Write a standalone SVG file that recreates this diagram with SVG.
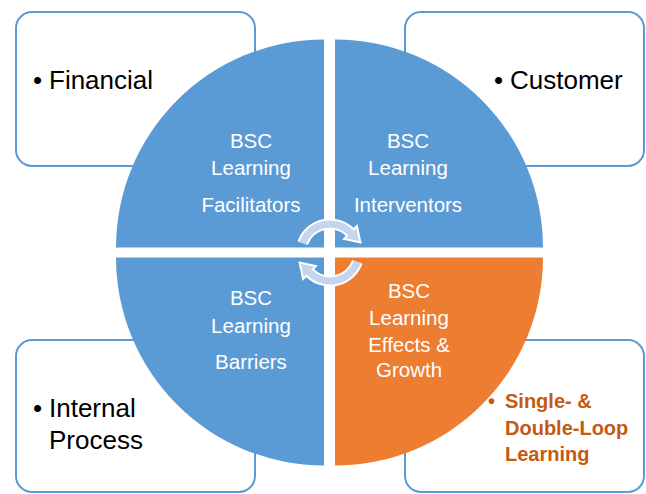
<svg xmlns="http://www.w3.org/2000/svg" width="646" height="494" viewBox="0 0 646 494">
<style>
.box{fill:#fff;stroke:#5B9BD5;stroke-width:2}
.q{fill:#5B9BD5}
.qo{fill:#ED7D31}
.qt{font-family:"Liberation Sans",Arial,sans-serif;font-size:20.5px;fill:#fff;text-anchor:middle}
.bt{font-family:"Liberation Sans",Arial,sans-serif;font-size:26px;fill:#000}
.ot{font-family:"Liberation Sans",Arial,sans-serif;font-size:20px;font-weight:bold;fill:#C55A11}
.arcw{fill:none;stroke:#fff;stroke-width:11}
.arcb{fill:none;stroke:#C3D6EE;stroke-width:7}
.head{fill:#C3D6EE;stroke:#fff;stroke-width:2;stroke-linejoin:miter}
</style>
<defs>
<g id="cyc">
<path class="arcw" d="M302.7,243.1 A29,29 0 0 1 350.5,232.5"/>
<polygon class="head" points="360.4,242.4 356.9,226.1 344.1,238.9"/>
<path class="arcb" d="M302.7,243.1 A29,29 0 0 1 351.5,233.6"/>
</g>
</defs>
<g id="box-financial">
<rect class="box" x="16" y="12" width="239" height="154" rx="16"/>
<text class="bt" x="33" y="89">•</text>
<text class="bt" x="49" y="89">Financial</text>
</g>
<g id="box-customer">
<rect class="box" x="405" y="12" width="239" height="154" rx="16"/>
<text class="bt" x="494" y="89">•</text>
<text class="bt" x="510" y="89">Customer</text>
</g>
<g id="box-internal">
<rect class="box" x="16" y="340" width="239" height="152" rx="16"/>
<text class="bt" x="33" y="417">•</text>
<text class="bt" x="49" y="417">Internal</text>
<text class="bt" x="49" y="449">Process</text>
</g>
<g id="box-loop">
<rect class="box" x="405" y="340" width="239" height="152" rx="16"/>
<text class="ot" x="488" y="408">•</text>
<text class="ot" x="505" y="408">Single- &amp;</text>
<text class="ot" x="505" y="435">Double-Loop</text>
<text class="ot" x="505" y="461">Learning</text>
</g>
<g id="q-facilitators">
<path class="q" d="M324,247.5 L116,247.5 A208,208 0 0 1 324,39.5 Z"/>
<text class="qt" x="251" y="148">BSC</text>
<text class="qt" x="251" y="175">Learning</text>
<text class="qt" x="251" y="212">Facilitators</text>
</g>
<g id="q-interventors">
<path class="q" d="M335,247.5 L335,39.5 A208,208 0 0 1 543,247.5 Z"/>
<text class="qt" x="408" y="148">BSC</text>
<text class="qt" x="408" y="175">Learning</text>
<text class="qt" x="408" y="212">Interventors</text>
</g>
<g id="q-barriers">
<path class="q" d="M324,257.5 L324,465.5 A208,208 0 0 1 116,257.5 Z"/>
<text class="qt" x="251" y="305">BSC</text>
<text class="qt" x="251" y="333">Learning</text>
<text class="qt" x="251" y="369">Barriers</text>
</g>
<g id="q-effects">
<path class="qo" d="M335,257.5 L543,257.5 A208,208 0 0 1 335,465.5 Z"/>
<text class="qt" x="409" y="298">BSC</text>
<text class="qt" x="409" y="325">Learning</text>
<text class="qt" x="409" y="352">Effects &amp;</text>
<text class="qt" x="409" y="377">Growth</text>
</g>
<g id="connectors">
<use href="#cyc"/>
<use href="#cyc" transform="rotate(180 330 252.5)"/>
</g>
</svg>
